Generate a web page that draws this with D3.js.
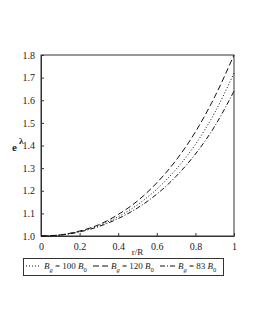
<!DOCTYPE html>
<html lang="en">
<head>
    <meta charset="UTF-8">
    <script src="https://cdnjs.cloudflare.com/ajax/libs/d3/7.6.1/d3.min.js"></script>
    <style>
        body { margin: 0; background: #fff; }
        text { font-family: "Liberation Serif", "DejaVu Serif", serif; fill: #222; }
    </style>
</head>
<body>
<div id="container"></div>
<script>
    // ---------- data ----------
    const rR = [0, 0.1, 0.2, 0.3, 0.4, 0.5, 0.6, 0.7, 0.8, 0.9, 1.0]
    const eLambda100 = [1.000, 1.005, 1.020, 1.046, 1.085, 1.138, 1.207, 1.295, 1.405, 1.545, 1.720]
    const eLambda120 = [1.000, 1.005, 1.022, 1.050, 1.095, 1.155, 1.235, 1.335, 1.460, 1.615, 1.800]
    const eLambda83  = [1.000, 1.004, 1.018, 1.042, 1.077, 1.124, 1.185, 1.264, 1.362, 1.485, 1.640]
    const xTicks = [0, 0.2, 0.4, 0.6, 0.8, 1]
    const yTicks = [1.0, 1.1, 1.2, 1.3, 1.4, 1.5, 1.6, 1.7, 1.8]
    const seriesLabels = ["100", "120", "83"]

    const W = 255, H = 330
    const svg = d3.select("#container").append("svg")
        .attr("width", W).attr("height", H)

    const x = d3.scaleLinear().domain([0, 1]).range([41, 234])
    const y = d3.scaleLinear().domain([1.0, 1.8]).range([236, 55])

    // frame
    svg.append("rect")
        .attr("x", x(0)).attr("y", y(1.8))
        .attr("width", x(1) - x(0)).attr("height", y(1.0) - y(1.8))
        .attr("fill", "none").attr("stroke", "#333").attr("stroke-width", 1)

    // axes, ticks inside
    svg.append("g").attr("transform", `translate(0,${y(1.0)})`)
        .call(d3.axisBottom(x).tickValues(xTicks).tickSizeInner(-3).tickSizeOuter(0)
            .tickPadding(7).tickFormat(d => d === 0 || d === 1 ? d3.format("d")(d) : d3.format(".1f")(d)))
    svg.append("g").attr("transform", `translate(${x(0)},0)`)
        .call(d3.axisLeft(y).tickValues(yTicks).tickSizeInner(-3).tickSizeOuter(0)
            .tickPadding(6).tickFormat(d3.format(".1f")))
    svg.selectAll(".domain").attr("stroke", "#333")
    svg.selectAll(".tick line").attr("stroke", "#333")
    svg.selectAll(".tick text").style("font-family", "Liberation Serif, serif")
        .style("font-size", "10px").attr("fill", "#222")

    // axis labels
    svg.append("text").attr("x", (x(0) + x(1)) / 2).attr("y", 255)
        .attr("text-anchor", "middle").style("font-size", "9px").text("r/R")
    const ylab = svg.append("text").attr("x", 12).attr("y", 151)
        .style("font-size", "11px").style("font-weight", "bold")
    ylab.append("tspan").text("e")
    ylab.append("tspan").attr("dx", 2).attr("dy", -7).style("font-size", "9px").text("λ")

    // curves
    const styles = [
        { data: eLambda100, dash: "1,2" },
        { data: eLambda120, dash: "6,3" },
        { data: eLambda83, dash: "5,2,1,2" }
    ]
    const line = d3.line()
        .x((d, i) => x(rR[i]))
        .y(d => y(d))
        .curve(d3.curveMonotoneX)
    styles.forEach(s => {
        svg.append("path")
            .attr("d", line(s.data))
            .attr("fill", "none")
            .attr("stroke", "#111")
            .attr("stroke-width", 1)
            .attr("stroke-dasharray", s.dash)
    })

    // legend
    const legend = svg.append("g")
    legend.append("rect").attr("x", 23.5).attr("y", 258.5).attr("width", 200).attr("height", 17)
        .attr("fill", "none").attr("stroke", "#333").attr("stroke-width", 1)
    const legX = [26, 93, 160]
    styles.forEach((s, i) => {
        legend.append("line")
            .attr("x1", legX[i]).attr("x2", legX[i] + 15)
            .attr("y1", 266).attr("y2", 266)
            .attr("stroke", "#111").attr("stroke-width", 1)
            .attr("stroke-dasharray", s.dash)
        const t = legend.append("text").attr("x", legX[i] + 18).attr("y", 269)
            .style("font-size", "9px")
        t.append("tspan").style("font-style", "italic").text("B")
        t.append("tspan").attr("dy", 3).style("font-size", "6.5px").style("font-style", "italic").text("g")
        t.append("tspan").attr("dy", -3).text(" = " + seriesLabels[i] + " ")
        t.append("tspan").style("font-style", "italic").text("B")
        t.append("tspan").attr("dy", 3).style("font-size", "6.5px").text("0")
    })
</script>
</body>
</html>
